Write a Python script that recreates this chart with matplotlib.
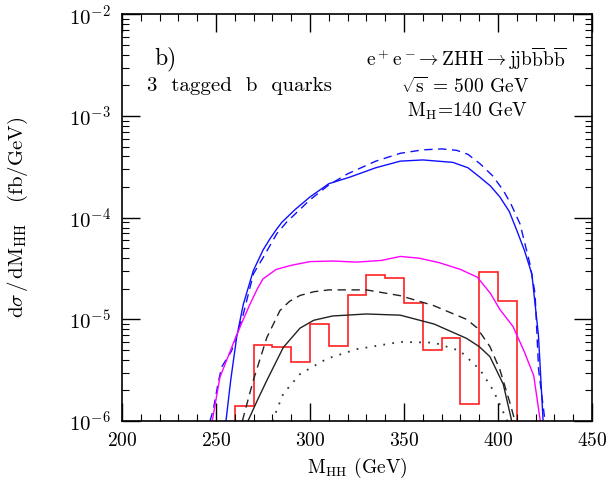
import numpy as np
import matplotlib
matplotlib.use('Agg')
import matplotlib.pyplot as plt
from matplotlib.ticker import LogLocator, MultipleLocator

plt.rcParams['font.family'] = 'serif'
plt.rcParams['font.serif'] = ['cmr10']
plt.rcParams['mathtext.fontset'] = 'cm'
plt.rcParams['axes.formatter.use_mathtext'] = True
plt.rcParams['axes.unicode_minus'] = False

# histogram (3 tagged b quarks), 10 GeV bins
hist_edges = [260, 270, 280, 290, 300, 310, 320, 330, 340, 350, 360, 370, 380, 390, 400, 410]
hist_vals = [1.42e-6, 5.57e-6, 5.32e-6, 3.84e-6, 9.1e-6, 5.44e-6, 1.74e-5, 2.74e-5,
             2.55e-5, 1.44e-5, 4.98e-6, 6.62e-6, 1.46e-6, 2.92e-5, 1.52e-5]

# blue solid
blue_x = [255.3, 257.8, 261, 264.5, 269.8, 275, 278.7, 282, 285, 292, 300, 310, 321, 335, 348,
          360, 376, 384, 390.4, 396, 401, 406, 410, 414, 418, 421.5, 424]
blue_y = [1e-6, 2.5e-6, 6.7e-6, 1.4e-5, 3.0e-5, 4.8e-5, 6.2e-5, 7.6e-5, 9e-5, 1.2e-4, 1.6e-4,
          2.16e-4, 2.5e-4, 3.1e-4, 3.6e-4, 3.7e-4, 3.5e-4, 3.1e-4, 2.5e-4, 2.05e-4, 1.6e-4,
          1.15e-4, 7.5e-5, 4.8e-5, 2.8e-5, 7e-6, 1e-6]

# blue dashed
blued_x = [246.8, 248.6, 251, 253, 258.3, 264.5, 269.9, 275.2, 282.3, 287.6, 300, 310, 320,
           335, 348, 360, 370, 378, 384, 390.4, 397, 402.8, 407, 411.7, 417, 419.7, 421.6, 425]
blued_y = [1e-6, 1.3e-6, 2.3e-6, 3.4e-6, 4.9e-6, 1.12e-5, 2.8e-5, 4.1e-5, 6.95e-5, 9.06e-5,
           1.5e-4, 2.1e-4, 2.7e-4, 3.6e-4, 4.3e-4, 4.65e-4, 4.75e-4, 4.6e-4, 4.2e-4, 3.4e-4,
           2.6e-4, 1.86e-4, 1.35e-4, 8.7e-5, 3.5e-5, 1.8e-5, 3.2e-6, 1e-6]

# magenta
mag_x = [248, 252.1, 259.2, 264, 268, 272, 275, 282, 290, 300, 312, 325, 338, 348, 358, 369,
         380, 389, 396, 401, 408, 414, 419, 422.5]
mag_y = [1e-6, 2.7e-6, 5.8e-6, 9.5e-6, 1.4e-5, 2.0e-5, 2.5e-5, 3.1e-5, 3.4e-5, 3.7e-5, 3.75e-5,
         3.66e-5, 3.8e-5, 4.16e-5, 4.0e-5, 3.6e-5, 3.1e-5, 2.6e-5, 1.8e-5, 1.25e-5, 8.5e-6,
         4.8e-6, 2.8e-6, 1e-6]

# black dashed
kd_x = [264, 269.8, 277, 284, 289, 294.7, 302, 310, 330, 348, 365.6, 383.3, 388.7, 395.7, 401,
        406.4, 409]
kd_y = [1e-6, 2.5e-6, 6.6e-6, 1.22e-5, 1.5e-5, 1.72e-5, 1.87e-5, 1.95e-5, 1.95e-5, 1.71e-5,
        1.37e-5, 1.0e-5, 8.3e-6, 5.4e-6, 3.2e-6, 1.5e-6, 1e-6]

# black solid
ks_x = [267, 272, 277, 285.8, 294.7, 302, 312, 330, 348, 366, 383.3, 390, 395.7, 402.8, 407.3]
ks_y = [1e-6, 1.6e-6, 2.5e-6, 5.3e-6, 8.2e-6, 9.8e-6, 1.08e-5, 1.13e-5, 1.1e-5, 9.0e-6,
        6.5e-6, 5.4e-6, 4.3e-6, 2.3e-6, 1e-6]

# black dotted
kdot_x = [280, 285.8, 294.7, 309, 325, 348, 366, 379.8, 390.4, 397.5, 405]
kdot_y = [1e-6, 1.86e-6, 2.9e-6, 4.1e-6, 5.1e-6, 6.0e-6, 5.9e-6, 4.9e-6, 3.2e-6, 2.0e-6, 1e-6]

fig = plt.figure(figsize=(6.10, 4.79), dpi=100)
ax = fig.add_axes([0.2, 0.121, 0.7705, 0.849])

ax.stairs(hist_vals, hist_edges, baseline=1e-8, color='#ff2020', lw=1.2)
ax.plot(blue_x, blue_y, color='#1010ff', lw=1.0)
ax.plot(blued_x, blued_y, color='#1010ff', lw=1.0, ls=(0, (6, 4)))
ax.plot(mag_x, mag_y, color='#ff00ff', lw=1.0)
ax.plot(kd_x, kd_y, color='#222222', lw=1.0, ls=(0, (6, 4)))
ax.plot(ks_x, ks_y, color='#222222', lw=1.0)
ax.plot(kdot_x, kdot_y, color='#333333', lw=1.3, ls=(0, (1, 4)))

ax.set_yscale('log')
ax.set_xlim(200, 450)
ax.set_ylim(1e-6, 1e-2)
ax.xaxis.set_major_locator(MultipleLocator(50))
ax.xaxis.set_minor_locator(MultipleLocator(10))
ax.yaxis.set_major_locator(LogLocator(base=10, numticks=10))
ax.yaxis.set_minor_locator(LogLocator(base=10, subs=np.arange(2, 10), numticks=10))
ax.tick_params(which='both', direction='in', top=True, right=True, labelsize=14, pad=8)
ax.tick_params(axis='y', labelsize=15)
ax.tick_params(which='major', length=13, width=1.0)
ax.tick_params(which='minor', length=5, width=0.8)
for s in ax.spines.values():
    s.set_linewidth(1.2)

ax.set_xlabel(r'M$_{\rm HH}$ (GeV)', fontsize=14, labelpad=4)
ax.set_ylabel(r'$\mathrm{d}\sigma\,/\,\mathrm{dM_{HH}}$   (fb/GeV)', fontsize=15, labelpad=28)

ax.text(0.068, 0.89, 'b)', transform=ax.transAxes, fontsize=17, va='center', ha='left')
ax.text(0.053, 0.824, '3  tagged  b  quarks', transform=ax.transAxes, fontsize=15,
        va='center', ha='left')
ax.text(0.731, 0.892, r'$\mathrm{e^+e^-\!\rightarrow ZHH\rightarrow jjb\overline{b}b\overline{b}}$',
        transform=ax.transAxes, fontsize=14, va='center', ha='center')
ax.text(0.730, 0.821, r'$\sqrt{\mathrm{s}}$ = 500 GeV', transform=ax.transAxes, fontsize=14,
        va='center', ha='center')
ax.text(0.734, 0.762, r'M$_{\rm H}$=140 GeV', transform=ax.transAxes, fontsize=14,
        va='center', ha='center')

fig.savefig('out.png', dpi=100)
